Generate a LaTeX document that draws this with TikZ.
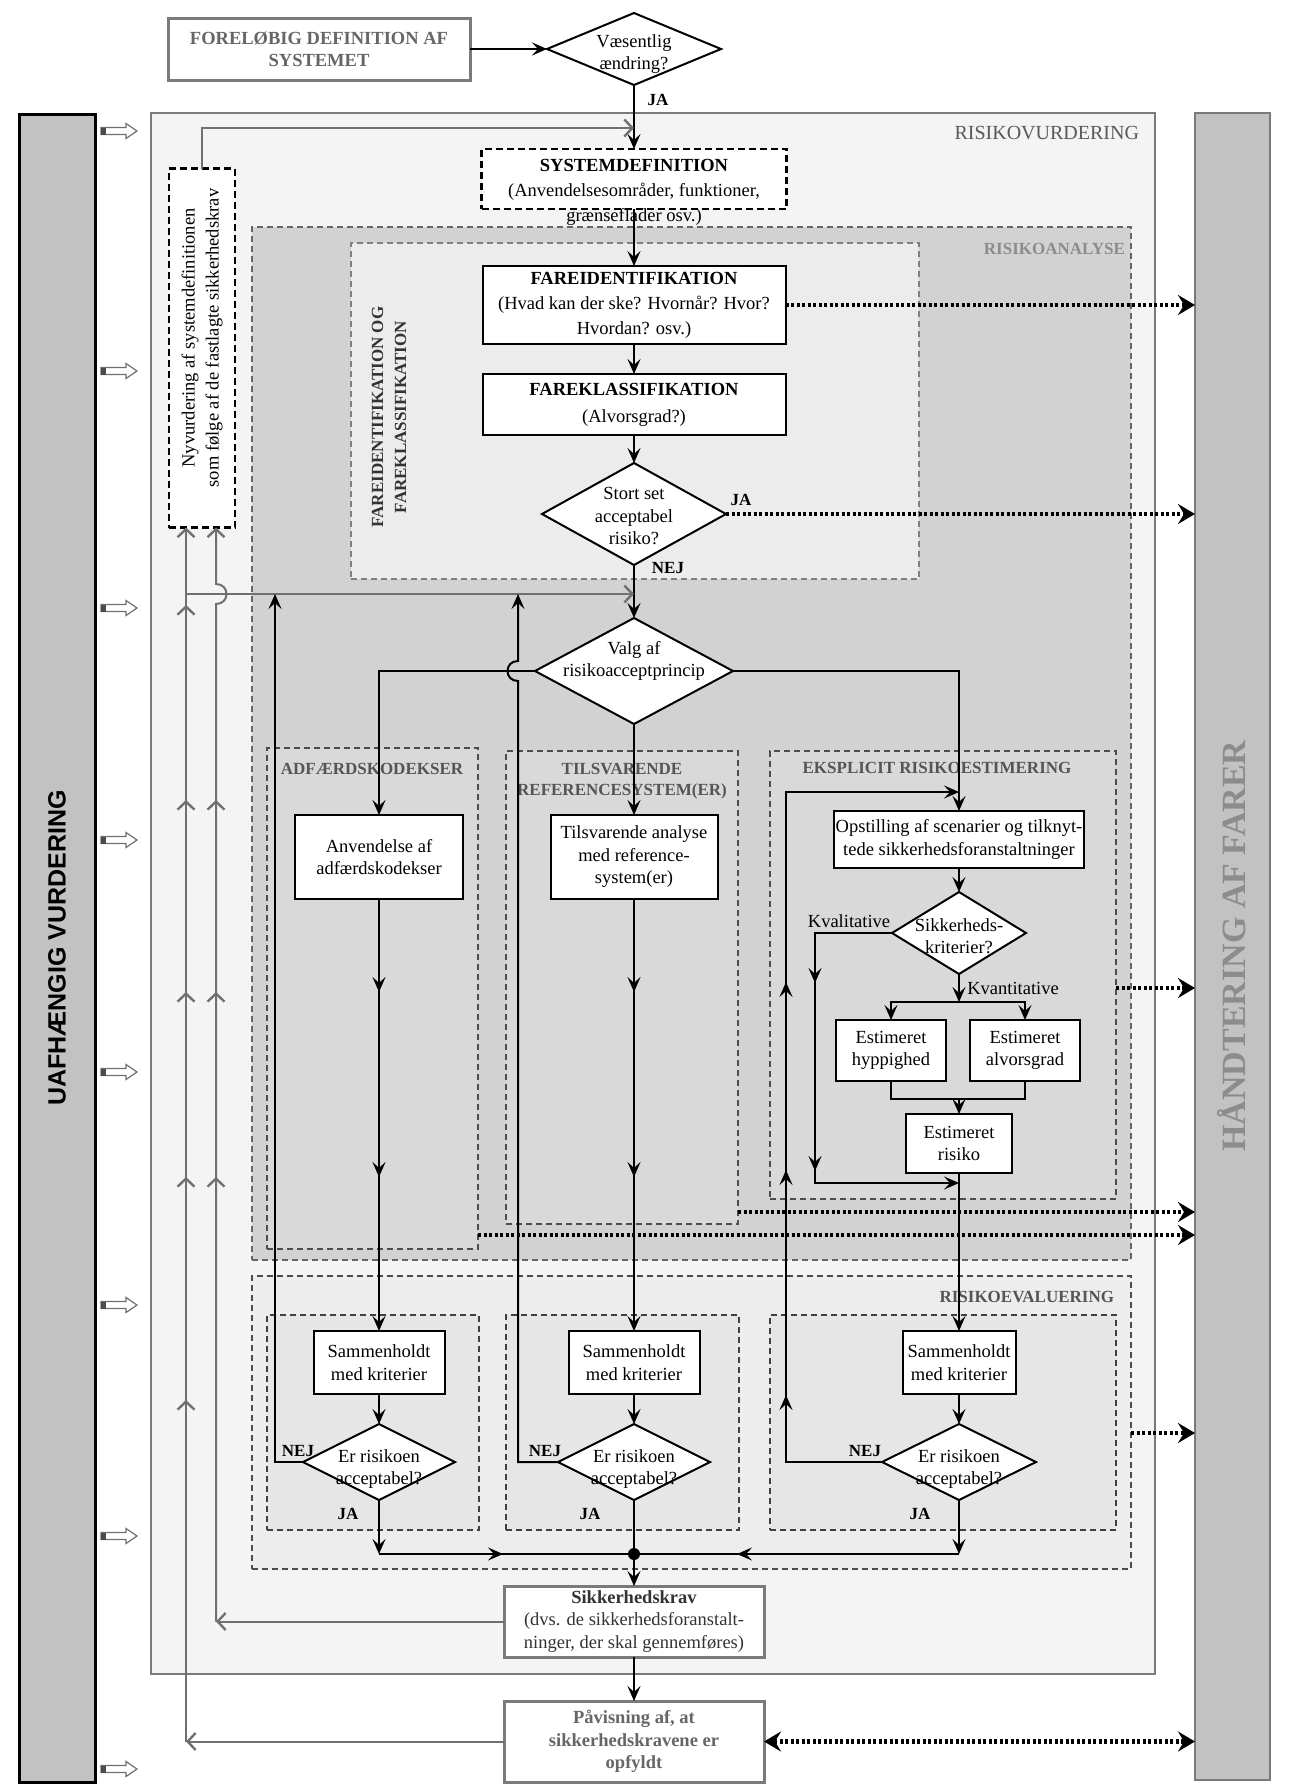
\documentclass[tikz,border=0pt]{standalone}
\usepackage{fontspec}
\setmainfont{Liberation Serif}
\setsansfont{Liberation Sans}
\usetikzlibrary{arrows.meta,shapes.geometric,fit,decorations.markings}
\definecolor{rvfill}{HTML}{F4F4F4}
\definecolor{rafill}{HTML}{D2D2D2}
\definecolor{fffill}{HTML}{ECECEC}
\definecolor{subfill}{HTML}{D9D9D9}
\definecolor{refill}{HTML}{EDEDED}
\definecolor{evfill}{HTML}{E6E6E6}
\definecolor{barfill}{HTML}{C2C2C2}
\definecolor{frame}{HTML}{7A7A7A}
\definecolor{gline}{HTML}{707070}
\definecolor{labgray}{HTML}{555555}
\definecolor{ltgray}{HTML}{8C8C8C}
\newcommand{\btip}{\arrow{Stealth[length=15pt,width=13pt,inset=6pt]}}
\newcommand{\gtip}{\arrow{Straight Barb[length=8pt,width=17pt,line width=2.4pt]}}
\begin{document}
\begin{tikzpicture}[x=1pt,y=-1pt,
  every node/.style={inner sep=0pt, outer sep=0pt, align=center, font=\fontsize{18.5}{22.5}\selectfont},
  box/.style={draw, rectangle, line width=2pt, fill=white},
  dia/.style={draw, diamond, line width=2pt, fill=white},
  cont/.style={rectangle, line width=1.6pt, dash pattern=on 6pt off 4pt},
  lab/.style={font=\fontsize{17}{20}\selectfont\bfseries},
  ln/.style={line width=2pt},
  arr/.style={line width=2pt, -{Stealth[length=15pt,width=13pt,inset=6pt]}},
  garr/.style={line width=2pt, color=gline, -{Straight Barb[length=8pt,width=17pt,line width=2.4pt]}},
  dots/.style={line width=4.5pt, dash pattern=on 3pt off 2.5pt, -{Stealth[length=17pt,width=20pt,inset=6pt]}},
  ddots/.style={line width=4.5pt, dash pattern=on 3pt off 2.5pt, {Stealth[length=17pt,width=20pt,inset=6pt]}-{Stealth[length=17pt,width=20pt,inset=6pt]}},
]
\fill[white] (0,0) rectangle (1291,1791);
\useasboundingbox (0,0) rectangle (1291,1791);

% side bars
\node[rectangle, draw=black, line width=3pt, fill=barfill, fit={(19,114) (95,1782)}] (uv) {};
\node[rotate=90, font=\sffamily\bfseries\fontsize{25}{28}\selectfont] (uvt) at (57,948) {UAFHÆNGIG VURDERING};
\node[rectangle, draw=frame, line width=2pt, fill=barfill, fit={(1195,113) (1270,1780)}] (hf) {};
\node[rotate=90, text=ltgray, font=\bfseries\fontsize{34}{38}\selectfont] (hft) at (1232,946) {HÅNDTERING AF FARER};

\foreach \yy in {131,371,608,840,1072,1305,1536,1769}{
  \draw[line width=1.2pt, draw=gline, fill=white] (101,\yy-3.5) -- (126,\yy-3.5) -- (126,\yy-7.5) -- (137,\yy) -- (126,\yy+7.5) -- (126,\yy+3.5) -- (101,\yy+3.5) -- cycle;
  \fill[black!70] (101,\yy-3.5) rectangle (106,\yy+3.5);
}

% containers
\node[rectangle, draw=frame, line width=2pt, fill=rvfill, fit={(151,113) (1155,1674)}] (rv) {};
\node[anchor=east, text=black!65, font=\fontsize{20}{24}\selectfont] (rvl) at (1139,133) {RISIKOVURDERING};
\node[cont, draw=black!60, fill=rafill, fit={(252,227) (1131,1260)}] (ra) {};
\node[anchor=east, lab, text=ltgray] (ral) at (1125,249) {RISIKOANALYSE};
\node[cont, draw=black!50, fill=fffill, fit={(351,243) (919,579)}] (ff) {};
\node[lab, rotate=90, text=black!80, font=\fontsize{17}{23}\selectfont\bfseries] (ffl) at (389,417) {FAREIDENTIFIKATION OG\\FAREKLASSIFIKATION};
\node[cont, draw=black!70, fill=subfill, fit={(267,748) (478,1249)}] (adf) {};
\node[lab, text=labgray] (adfl) at (372,769) {ADFÆRDSKODEKSER};
\node[cont, draw=black!70, fill=subfill, fit={(506,751) (738,1224)}] (tsv) {};
\node[lab, text=labgray, font=\fontsize{17}{21}\selectfont\bfseries] (tsvl) at (622,781) {TILSVARENDE\\REFERENCESYSTEM(ER)};
\node[cont, draw=black!70, fill=subfill, fit={(770,751) (1116,1199)}] (eks) {};
\node[lab, text=labgray] (eksl) at (937,768) {EKSPLICIT RISIKOESTIMERING};
\node[cont, draw=black!70, fill=refill, fit={(252,1276) (1131,1569)}] (re) {};
\node[lab, text=labgray, anchor=east] (rel) at (1114,1297) {RISIKOEVALUERING};
\node[cont, draw=black!75, fill=evfill, fit={(267,1315) (479,1530)}] (ev1) {};
\node[cont, draw=black!75, fill=evfill, fit={(506,1315) (739,1530)}] (ev2) {};
\node[cont, draw=black!75, fill=evfill, fit={(770,1315) (1116,1530)}] (ev3) {};

% nodes
\node[box, draw=frame, line width=3pt, minimum width=302pt, minimum height=62pt, text=black!60, font=\bfseries\fontsize{18.5}{22}\selectfont] (forelob) at (319,49) {FORELØBIG DEFINITION AF\\SYSTEMET};
\node[dia, minimum width=174pt, minimum height=72pt] (vaes) at (634,49) {};
\node (vaest) at (634,54) {Væsentlig\\ændring?};
\node[box, line width=2.2pt, dash pattern=on 7pt off 4pt, minimum width=305pt, minimum height=60pt] (sysdef) at (634,179) {};
\node[font=\fontsize{18.5}{25}\selectfont] (sysdeft) at (634,192) {\textbf{SYSTEMDEFINITION}\\(Anvendelsesområder, funktioner,\\grænseflader osv.)};
\node[box, line width=2.2pt, dash pattern=on 7pt off 4pt, minimum width=66pt, minimum height=359pt] (nyv) at (202,348) {};
\node[rotate=90, font=\fontsize{18.5}{24}\selectfont] (nyvt) at (202,338) {Nyvurdering af systemdefinitionen\\som følge af de fastlagte sikkerhedskrav};
\node[box, minimum width=303pt, minimum height=78pt, font=\fontsize{18.5}{25}\selectfont] (fi) at (634,305) {\textbf{FAREIDENTIFIKATION}\\(Hvad kan der ske? Hvornår? Hvor?\\Hvordan? osv.)};
\node[box, minimum width=303pt, minimum height=61pt, font=\fontsize{18.5}{27}\selectfont] (fk) at (634,404.5) {\textbf{FAREKLASSIFIKATION}\\(Alvorsgrad?)};
\node[dia, minimum width=184pt, minimum height=102pt] (stort) at (634,514) {};
\node (stortt) at (634,516) {Stort set\\acceptabel\\risiko?};
\node[dia, minimum width=198pt, minimum height=106pt] (valg) at (634,671) {};
\node (valgt) at (634,661) {Valg af\\risikoacceptprincip};
\node[box, minimum width=168pt, minimum height=84pt] (anv) at (379,857) {Anvendelse af\\adfærdskodekser};
\node[box, minimum width=167pt, minimum height=84pt] (tsa) at (634,857) {Tilsvarende analyse\\med reference-\\system(er)};
\node[box, minimum width=250pt, minimum height=57pt] (ops) at (959,839.5) {Opstilling af scenarier og tilknyt-\\tede sikkerhedsforanstaltninger};
\node[dia, minimum width=134pt, minimum height=82pt] (skr) at (959,933) {};
\node (skrt) at (959,936) {Sikkerheds-\\kriterier?};
\node[box, minimum width=110pt, minimum height=61pt] (hyp) at (891,1050.5) {Estimeret\\hyppighed};
\node[box, minimum width=110pt, minimum height=61pt] (alv) at (1025,1050.5) {Estimeret\\alvorsgrad};
\node[box, minimum width=106pt, minimum height=59pt] (ris) at (959,1143.5) {Estimeret\\risiko};
\node[box, minimum width=131pt, minimum height=63pt] (s1) at (379,1362.5) {Sammenholdt\\med kriterier};
\node[box, minimum width=131pt, minimum height=63pt] (s2) at (634,1362.5) {Sammenholdt\\med kriterier};
\node[box, minimum width=113pt, minimum height=63pt] (s3) at (959,1362.5) {Sammenholdt\\med kriterier};
\node[dia, minimum width=152pt, minimum height=76pt] (d1) at (379,1462) {};
\node[dia, minimum width=152pt, minimum height=76pt] (d2) at (634,1462) {};
\node[dia, minimum width=154pt, minimum height=76pt] (d3) at (959,1462) {};
\node (d1t) at (379,1469) {Er risikoen\\acceptabel?};
\node (d2t) at (634,1469) {Er risikoen\\acceptabel?};
\node (d3t) at (959,1469) {Er risikoen\\acceptabel?};
\node[box, draw=frame, line width=3pt, minimum width=260pt, minimum height=71pt, text=black!80] (skrav) at (634,1621.5) {\textbf{Sikkerhedskrav}\\(dvs. de sikkerhedsforanstalt-\\ninger, der skal gennemføres)};
\node[box, draw=frame, line width=3pt, minimum width=260pt, minimum height=81pt, text=black!60, font=\bfseries\fontsize{18.5}{22.5}\selectfont] (pav) at (634,1741.5) {Påvisning af, at\\sikkerhedskravene er\\opfyldt};

% labels
\node[lab] (ja0) at (658,100) {JA};
\node[lab] (ja1) at (741,500) {JA};
\node[lab] (nej1) at (668,568) {NEJ};
\node[lab] (nejd1) at (298,1451) {NEJ};
\node[lab] (nejd2) at (545,1451) {NEJ};
\node[lab] (nejd3) at (865,1451) {NEJ};
\node[lab] (jad1) at (348,1514) {JA};
\node[lab] (jad2) at (590,1514) {JA};
\node[lab] (jad3) at (920,1514) {JA};
\node (kval) at (849,921) {Kvalitative};
\node (kvan) at (1013,988) {Kvantitative};

% coordinates
\coordinate (jt) at (634,128);
\coordinate (g1x) at (186,0);
\coordinate (g2x) at (216,0);
\coordinate (br) at (186,594);
\coordinate (bv) at (634,594);
\coordinate (n1) at (275,594);
\coordinate (kb) at (959,1002);
\coordinate (mb) at (959,1099);
\coordinate (kq) at (815,1183);
\coordinate (bj) at (634,1554);
\coordinate (o3) at (1116,988);
\coordinate (o4) at (738,1212);
\coordinate (o5) at (478,1235);
\coordinate (o6) at (1131,1433);

% main flow
\draw[arr] (forelob.east) -- (vaes.west);
\draw[arr] (vaes.south) -- (sysdef.north);
\draw[garr] (nyv.north) |- (jt);
\draw[arr] (sysdef.south) -- (fi.north);
\draw[arr] (fi.south) -- (fk.north);
\draw[arr] (fk.south) -- (stort.north);
\draw[arr] (stort.south) -- (valg.north);
\draw[garr] (br) -- (bv);

% dotted arrows to right bar
\draw[dots] (fi.east) -- (fi.east -| hf.west);
\draw[dots] (stort.east) -- (stort.east -| hf.west);
\draw[dots] (o3) -- (o3 -| hf.west);
\draw[dots] (o4) -- (o4 -| hf.west);
\draw[dots] (o5) -- (o5 -| hf.west);
\draw[dots] (o6) -- (o6 -| hf.west);
\draw[ddots] (pav.east) -- (pav.east -| hf.west);

% gray feedback lines
\draw[garr] (skrav.west) -- (skrav.west -| g2x);
\draw[garr] (pav.west) -- (pav.west -| g1x);
\draw[garr, postaction={decorate}, decoration={markings,
   mark=at position 341.5pt with {\gtip}, mark=at position 564.5pt with {\gtip},
   mark=at position 749.5pt with {\gtip}, mark=at position 941.5pt with {\gtip},
   mark=at position 1136.5pt with {\gtip}}]
  (pav.west -| g1x) -- (g1x |- nyv.south);
\draw[garr, postaction={decorate}, decoration={markings,
   mark=at position 444.5pt with {\gtip}, mark=at position 629.5pt with {\gtip},
   mark=at position 821.5pt with {\gtip}}]
  (skrav.west -| g2x) -- (216,604) .. controls (230,604) and (230,584) .. (216,584) -- (g2x |- nyv.south);

% branches from Valg
\draw[arr] (valg.west) -| (anv.north);
\draw[arr] (valg.east) -| (ops.north);
\draw[arr] (valg.south) -- (tsa.north);

\draw[arr, postaction={decorate}, decoration={markings,
   mark=at position 93pt with {\btip}, mark=at position 278pt with {\btip}}]
  (anv.south) -- (s1.north);
\draw[arr, postaction={decorate}, decoration={markings,
   mark=at position 93pt with {\btip}, mark=at position 278pt with {\btip}}]
  (tsa.south) -- (s2.north);

% explicit estimation
\draw[arr] (ops.south) -- (skr.north);
\draw[arr] (skr.south) -- (kb);
\draw[arr] (kb) -| (hyp.north);
\draw[arr] (kb) -| (alv.north);
\draw[ln] (hyp.south) |- (mb);
\draw[ln] (alv.south) |- (mb);
\draw[arr] (mb) -- (ris.north);
\draw[arr, postaction={decorate}, decoration={markings,
   mark=at position 127pt with {\btip}, mark=at position 315pt with {\btip}}]
  (skr.west) -| (kq) -- (kq -| ris.south);
\draw[arr] (ris.south) -- (s3.north);

% evaluation
\draw[arr] (s1.south) -- (d1.north);
\draw[arr] (s2.south) -- (d2.north);
\draw[arr] (s3.south) -- (d3.north);
\draw[arr] (d1.south) -- (d1.south |- bj);
\draw[arr] (d3.south) -- (d3.south |- bj);
\draw[ln, postaction={decorate}, decoration={markings, mark=at position 124pt with {\btip}}] (d1.south |- bj) -- (bj);
\draw[ln, postaction={decorate}, decoration={markings, mark=at position 222pt with {\btip}}] (d3.south |- bj) -- (bj);
\draw[ln] (d2.south) -- (bj);
\fill (bj) circle[radius=6];
\draw[arr] (bj) -- (skrav.north);
\draw[arr] (skrav.south) -- (pav.north);

% NEJ loops
\draw[arr] (d1.west) -| (n1);
\draw[arr] (d2.west) -- (518,1462) -- (518,681) .. controls (504,681) and (504,661) .. (518,661) -- (518,594);
\draw[arr, postaction={decorate}, decoration={markings,
   mark=at position 163pt with {\btip}, mark=at position 388pt with {\btip},
   mark=at position 576pt with {\btip}}]
  (d3.west) -| (786,792) -- (959,792);
\end{tikzpicture}
\end{document}
